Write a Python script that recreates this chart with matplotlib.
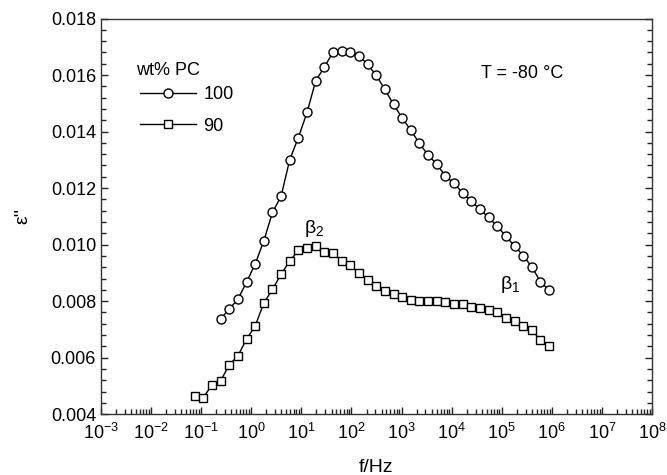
import matplotlib
matplotlib.use("Agg")
import matplotlib.pyplot as plt
from matplotlib.ticker import LogLocator, MultipleLocator, NullFormatter

plt.rcParams['font.family'] = ['Liberation Sans', 'DejaVu Sans']
plt.rcParams['mathtext.fontset'] = 'custom'
plt.rcParams['mathtext.rm'] = 'Liberation Sans'
plt.rcParams['mathtext.it'] = 'Liberation Sans'

# frequencies (Hz) of the 90 wt% PC sweep; the 100 wt% sweep starts at the 4th one
freq_90 = [0.0741, 0.110, 0.164, 0.244, 0.363, 0.541, 0.805, 1.20, 1.78, 2.65,
           3.94, 5.87, 8.73, 13.0, 19.3, 28.8, 42.8, 63.7, 94.8, 141,
           210, 312, 465, 692, 1030, 1530, 2280, 3390, 5040, 7500,
           11200, 16600, 24700, 36800, 54700, 81500, 121000, 180000, 269000, 399000,
           594000, 885000]
freq_100 = freq_90[3:]

eps_100 = [0.00737, 0.00772, 0.00807, 0.00867, 0.00932, 0.01013, 0.01114, 0.01171, 0.01301, 0.01379,
           0.01468, 0.01579, 0.01629, 0.01680, 0.01685, 0.01680, 0.01668, 0.01638, 0.01599, 0.01549,
           0.01496, 0.01448, 0.01405, 0.01358, 0.01317, 0.01285, 0.01243, 0.01217, 0.01183, 0.01154,
           0.01125, 0.01096, 0.01065, 0.01030, 0.00995, 0.00961, 0.00921, 0.00869, 0.00838]

eps_90 = [0.00465, 0.00459, 0.00503, 0.00518, 0.00574, 0.00607, 0.00665, 0.00713, 0.00793, 0.00842,
          0.00895, 0.00942, 0.00980, 0.00989, 0.00994, 0.00974, 0.00971, 0.00941, 0.00929, 0.00898,
          0.00876, 0.00855, 0.00836, 0.00825, 0.00814, 0.00804, 0.00802, 0.00800, 0.00802, 0.00796,
          0.00790, 0.00790, 0.00780, 0.00777, 0.00769, 0.00762, 0.00741, 0.00731, 0.00713, 0.00698,
          0.00662, 0.00642]

fig = plt.figure(figsize=(6.67, 4.75), dpi=100)
ax = fig.add_axes([0.1514, 0.128, 0.8261, 0.833])

ax.plot(freq_100, eps_100, '-', color='black', lw=1, marker='o', ms=6.5,
        mfc='white', mec='black', mew=1, label='100')
ax.plot(freq_90, eps_90, '-', color='black', lw=1, marker='s', ms=6,
        mfc='white', mec='black', mew=1, label='90')

ax.set_xscale('log')
ax.set_xlim(1e-3, 1e8)
ax.set_ylim(0.004, 0.018)
ax.xaxis.set_major_locator(LogLocator(base=10, numticks=20))
ax.xaxis.set_minor_locator(LogLocator(base=10, subs=range(2, 10), numticks=20))
ax.xaxis.set_minor_formatter(NullFormatter())
ax.yaxis.set_major_locator(MultipleLocator(0.002))
ax.yaxis.set_minor_locator(MultipleLocator(0.0004))
ax.yaxis.set_major_formatter(plt.FormatStrFormatter('%.3f'))

ax.tick_params(which='both', direction='in', labelsize=13, color='#222222')
ax.tick_params(axis='x', which='both', top=False)
ax.tick_params(axis='y', which='both', right=True)
ax.tick_params(which='major', length=5, width=1)
ax.tick_params(which='minor', length=3.5, width=1)
ax.tick_params(axis='x', pad=6)
for s in ax.spines.values():
    s.set_color('#333333')
    s.set_linewidth(1)

ax.set_xlabel('f/Hz', fontsize=14, labelpad=12)
ax.set_ylabel("ε''", fontsize=14, labelpad=14)

# legend title drawn separately so the gap to the entries can be set on its own
ax.text(0.063, 0.869, 'wt% PC', transform=ax.transAxes, fontsize=13, va='center')
ax.legend(loc='upper left', bbox_to_anchor=(0.058, 0.847),
          frameon=False, fontsize=13, handlelength=3.1,
          handletextpad=0.4, labelspacing=0.8, borderaxespad=0)

ax.text(0.69, 0.85, 'T = -80 °C', transform=ax.transAxes, fontsize=13)
ax.text(18, 0.0102, r'$\mathrm{β}_2$', fontsize=14, ha='center', va='bottom')
ax.text(1.5e5, 0.0086, r'$\mathrm{β}_1$', fontsize=14, ha='center', va='center')

fig.savefig('out.png', dpi=100)
